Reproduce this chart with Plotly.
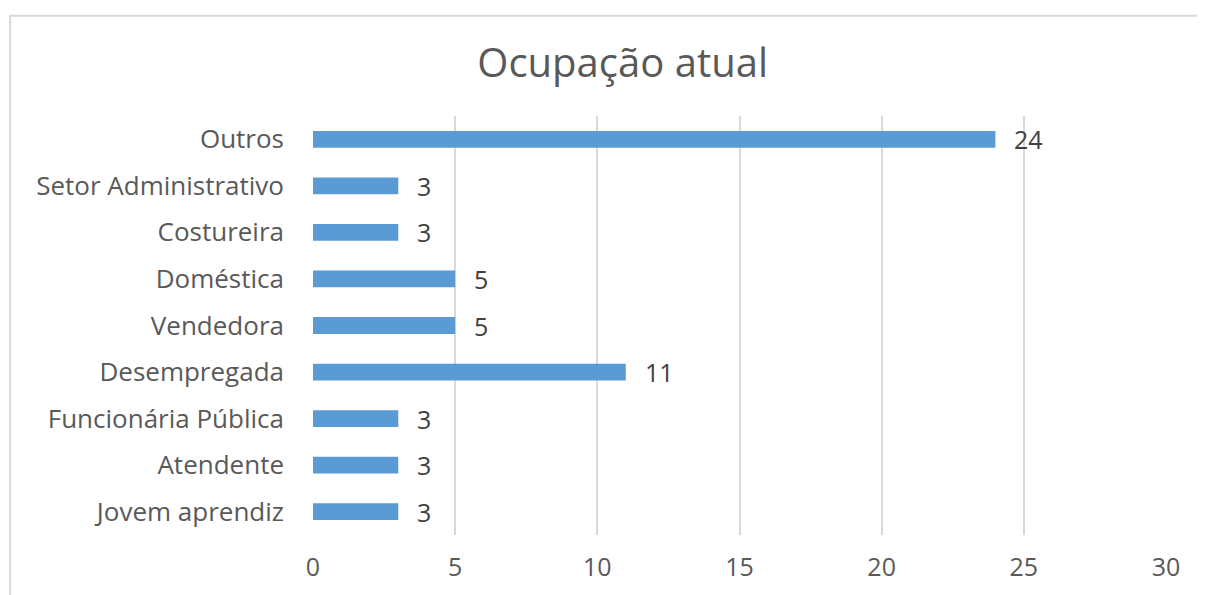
import plotly.graph_objects as go

categories = ["Jovem aprendiz", "Atendente", "Funcionária Pública", "Desempregada",
              "Vendedora", "Doméstica", "Costureira", "Setor Administrativo", "Outros"]
values = [3, 3, 3, 11, 5, 5, 3, 3, 24]
x_ticks = [0, 5, 10, 15, 20, 25, 30]

FONT = "Open Sans, DejaVu Sans, sans-serif"
TXT = "#595959"

fig = go.Figure()
fig.add_trace(go.Bar(
    y=categories, x=values, orientation="h",
    marker=dict(color="#5B9BD5", line=dict(width=0)),
    width=0.36, hoverinfo="skip",
))

for c, v in zip(categories, values):
    fig.add_annotation(x=v, y=c, text=str(v), showarrow=False, xanchor="left",
                       xshift=17, font=dict(family=FONT, size=25, color="#404040"))

fig.add_shape(type="rect", xref="paper", yref="paper",
              x0=-0.355, x1=1.08, y0=-0.25, y1=1.239,
              line=dict(color="#d9d9d9", width=2), fillcolor="rgba(0,0,0,0)", layer="below")

fig.update_layout(
    width=1197, height=587,
    margin=dict(l=305, r=39, t=108, b=56),
    paper_bgcolor="white", plot_bgcolor="white",
    showlegend=False,
    title=dict(text="Ocupação atual", x=0.5135, xanchor="center", y=1 - 55 / 587, yanchor="middle",
               font=dict(family=FONT, size=40, color=TXT)),
    xaxis=dict(range=[0, 30], tickvals=x_ticks, showgrid=True, gridcolor="#d9d9d9",
               gridwidth=1.5, zeroline=False, showline=False, ticks="",
               tickfont=dict(family=FONT, size=25, color=TXT), ticklabelstandoff=15),
    yaxis=dict(categoryorder="array", categoryarray=categories, range=[-0.5, 8.5],
               showgrid=False, zeroline=False, showline=False, ticks="",
               tickfont=dict(family=FONT, size=26, color=TXT), ticklabelstandoff=28),
)

fig.write_html("out.html")
